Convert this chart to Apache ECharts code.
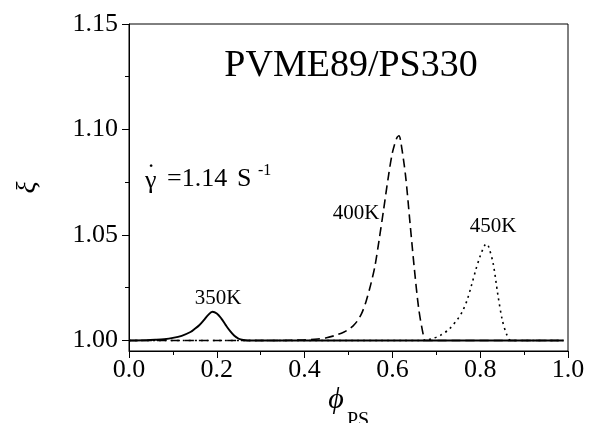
<!DOCTYPE html>
<html><head><meta charset="utf-8">
<script src="https://cdn.jsdelivr.net/npm/echarts@6/dist/echarts.min.js"></script>
<style>html,body{margin:0;padding:0;background:#fff}#c{width:589px;height:423px}</style>
</head><body><div id="c"></div>
<script>
// ---- data ----
const phi350 = [0.00, 0.04, 0.06, 0.08, 0.10, 0.12, 0.14, 0.15, 0.16, 0.17, 0.18, 0.19, 0.20, 0.21, 0.22, 0.23, 0.24, 0.25, 0.26, 0.27, 0.30, 0.99];
const xi350  = [1.0000, 1.0001, 1.0003, 1.0006, 1.0012, 1.0022, 1.0040, 1.0055, 1.0072, 1.0095, 1.0120, 1.0136, 1.0128, 1.0105, 1.0074, 1.0045, 1.0022, 1.0008, 1.0002, 1.0000, 1.0, 1.0];

const phi400 = [0.00, 0.35, 0.40, 0.43, 0.45, 0.47, 0.49, 0.50, 0.51, 0.52, 0.53, 0.54, 0.55, 0.56, 0.57, 0.58, 0.59, 0.60, 0.61, 0.615, 0.62, 0.63, 0.64, 0.65, 0.66, 0.67, 0.675, 0.70, 0.99];
const xi400  = [1.0, 1.0, 1.0003, 1.0007, 1.0013, 1.0024, 1.0040, 1.0052, 1.0068, 1.0092, 1.0128, 1.0185, 1.0260, 1.0350, 1.0480, 1.0620, 1.0765, 1.0890, 1.0960, 1.0970, 1.0930, 1.0780, 1.0560, 1.0340, 1.0150, 1.0030, 1.0000, 1.0, 1.0];

const phi450 = [0.00, 0.67, 0.69, 0.71, 0.73, 0.75, 0.76, 0.77, 0.78, 0.79, 0.80, 0.81, 0.815, 0.82, 0.83, 0.84, 0.85, 0.86, 0.87, 0.90, 0.99];
const xi450  = [1.0, 1.0, 1.0008, 1.0025, 1.0055, 1.0105, 1.0140, 1.0190, 1.0260, 1.0335, 1.0400, 1.0450, 1.0458, 1.0440, 1.0360, 1.0220, 1.0100, 1.0030, 1.0000, 1.0, 1.0];

const yMajorTicks = [1.00, 1.05, 1.10, 1.15];
const yMinorTicks = [1.025, 1.075, 1.125];
const xMin = 0, xMax = 1, xInterval = 0.2;
const yMin = 0.995, yMax = 1.15;

const seriesNames = ['350K', '400K', '450K'];
const titleText = 'PVME89/PS330';

// ---- chart ----
const zip = (a, b) => a.map((v, i) => [v, b[i]]);
const SERIF = '"Liberation Serif", "Times New Roman", serif';
const chart = echarts.init(document.getElementById('c'), null, {renderer: 'canvas'});

const lineBase = {type: 'line', showSymbol: false, smooth: 0.3, z: 3};

chart.setOption({
  animation: false,
  backgroundColor: '#fff',
  grid: {left: 129, right: 21, top: 24, bottom: 72, show: true, borderColor: '#000', borderWidth: 1, backgroundColor: 'transparent'},
  xAxis: {
    type: 'value', min: xMin, max: xMax, interval: xInterval,
    axisLine: {show: true, lineStyle: {color: '#000', width: 1}},
    axisTick: {show: true, inside: false, length: 7, lineStyle: {color: '#000'}},
    minorTick: {show: true, splitNumber: 2, length: 4, lineStyle: {color: '#000'}},
    axisLabel: {color: '#000', fontFamily: SERIF, fontSize: 26, margin: 6, formatter: v => v.toFixed(1)},
    splitLine: {show: false}, minorSplitLine: {show: false}
  },
  yAxis: [{
    type: 'value', min: yMin, max: yMax,
    axisLine: {show: true, lineStyle: {color: '#000', width: 1}},
    axisTick: {show: true, inside: false, length: 7, customValues: yMajorTicks, lineStyle: {color: '#000'}},
    axisLabel: {color: '#000', fontFamily: SERIF, fontSize: 26, margin: 11, customValues: yMajorTicks, formatter: v => v.toFixed(2)},
    splitLine: {show: false},
    name: 'ξ', nameLocation: 'middle', nameRotate: 90, nameGap: 87,
    nameTextStyle: {color: '#000', fontFamily: SERIF, fontStyle: 'italic', fontSize: 28}
  }, {
    type: 'value', min: yMin, max: yMax, position: 'left', offset: 0,
    axisLine: {show: false},
    axisTick: {show: true, inside: false, length: 4, customValues: yMinorTicks, lineStyle: {color: '#000'}},
    axisLabel: {show: false},
    splitLine: {show: false}
  }],
  series: [
    Object.assign({}, lineBase, {name: seriesNames[1], data: zip(phi400, xi400), lineStyle: {color: '#000', width: 1.6, type: [9, 5]}}),
    Object.assign({}, lineBase, {name: seriesNames[2], data: zip(phi450, xi450), lineStyle: {color: '#000', width: 1.6, type: [2, 4]}}),
    Object.assign({}, lineBase, {name: seriesNames[0], data: zip(phi350, xi350), lineStyle: {color: '#000', width: 1.9, type: 'solid'}})
  ],
  graphic: [
    {type: 'text', x: 351, y: 66, style: {text: titleText, fontFamily: SERIF, fontSize: 38, fill: '#000', align: 'center', verticalAlign: 'middle'}},
    {type: 'text', x: 218, y: 298, style: {text: seriesNames[0], fontFamily: SERIF, fontSize: 21, fill: '#000', align: 'center', verticalAlign: 'middle'}},
    {type: 'text', x: 356, y: 213, style: {text: seriesNames[1], fontFamily: SERIF, fontSize: 21, fill: '#000', align: 'center', verticalAlign: 'middle'}},
    {type: 'text', x: 493, y: 226, style: {text: seriesNames[2], fontFamily: SERIF, fontSize: 21, fill: '#000', align: 'center', verticalAlign: 'middle'}},
    {type: 'text', x: 145, y: 181, style: {text: 'γ', fontFamily: SERIF, fontSize: 26, fill: '#000', align: 'left', verticalAlign: 'middle'}},
    {type: 'text', x: 151, y: 174, style: {text: '˙', fontFamily: SERIF, fontSize: 26, fill: '#000', align: 'center', verticalAlign: 'middle'}},
    {type: 'text', x: 167, y: 179, style: {text: '=1.14', fontFamily: SERIF, fontSize: 26, fill: '#000', align: 'left', verticalAlign: 'middle'}},
    {type: 'text', x: 237, y: 179, style: {text: 'S', fontFamily: SERIF, fontSize: 26, fill: '#000', align: 'left', verticalAlign: 'middle'}},
    {type: 'text', x: 258, y: 171, style: {text: '-1', fontFamily: SERIF, fontSize: 16, fill: '#000', align: 'left', verticalAlign: 'middle'}},
    {type: 'text', x: 336, y: 400, style: {text: 'ϕ', fontFamily: SERIF, fontStyle: 'italic', fontSize: 30, fill: '#000', align: 'center', verticalAlign: 'middle'}},
    {type: 'text', x: 358, y: 421, style: {text: 'PS', fontFamily: SERIF, fontSize: 20, fill: '#000', align: 'center', verticalAlign: 'middle'}}
  ]
});
</script>
</body></html>
